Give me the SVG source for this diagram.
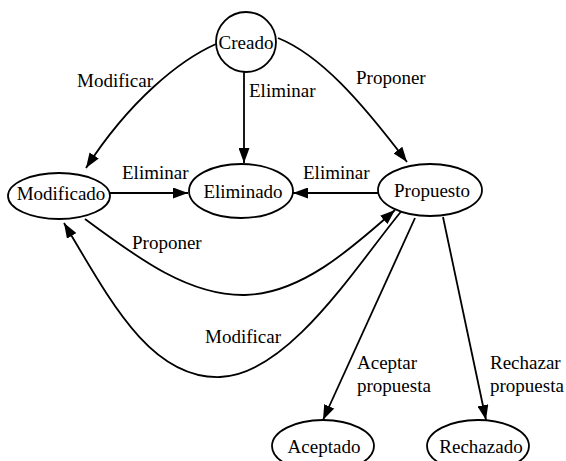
<svg xmlns="http://www.w3.org/2000/svg" width="566" height="461" viewBox="0 0 566 461">
  <style>
    .node { fill: #ffffff; stroke: #000000; stroke-width: 1.8; }
    .edge { fill: none; stroke: #000000; stroke-width: 1.8; marker-end: url(#arrow); }
    text { font-family: "Liberation Serif", "Times New Roman", serif; font-size: 19px; fill: #000000; }
    .label { text-anchor: middle; }
  </style>
  <defs>
    <marker id="arrow" markerUnits="userSpaceOnUse" markerWidth="15" markerHeight="11" refX="15" refY="5.5" orient="auto">
      <path d="M0,0 L15,5.5 L0,11 z" fill="#000000"/>
    </marker>
  </defs>
  <rect width="566" height="461" fill="#ffffff"/>

  <!-- transitions -->
  <g id="edges">
    <path class="edge" d="M216,44 C180,60 130,100 86,168"/>
    <text x="77" y="87">Modificar</text>
    <path class="edge" d="M244,72 L244,163"/>
    <text x="249" y="97">Eliminar</text>
    <path class="edge" d="M278,38 C320,55 360,100 407,162"/>
    <text x="356" y="84">Proponer</text>
    <path class="edge" d="M110,193 L188,193"/>
    <text x="122" y="179">Eliminar</text>
    <path class="edge" d="M378,193 L293,193"/>
    <text x="303" y="179">Eliminar</text>
    <path class="edge" d="M85,219 C140,260 190,296 245,295 C300,294 350,250 395,210"/>
    <text x="132" y="249">Proponer</text>
    <path class="edge" d="M404,208 C360,260 290,375 220,377 C150,379 110,300 64,223"/>
    <text x="205" y="343">Modificar</text>
    <path class="edge" d="M415,218 L323,420"/>
    <text x="357" y="369">Aceptar</text>
    <text x="357" y="392">propuesta</text>
    <path class="edge" d="M443,217 L486,420"/>
    <text x="490" y="369">Rechazar</text>
    <text x="490" y="392">propuesta</text>
  </g>

  <!-- states -->
  <g id="creado">
    <circle class="node" cx="246" cy="42" r="30"/>
    <text class="label" x="246" y="49">Creado</text>
  </g>
  <g id="modificado">
    <ellipse class="node" cx="59" cy="196" rx="51" ry="23"/>
    <text class="label" x="61" y="200">Modificado</text>
  </g>
  <g id="eliminado">
    <ellipse class="node" cx="241" cy="191" rx="52" ry="27"/>
    <text class="label" x="243" y="198">Eliminado</text>
  </g>
  <g id="propuesto">
    <ellipse class="node" cx="430" cy="190" rx="52" ry="26"/>
    <text class="label" x="432" y="197">Propuesto</text>
  </g>
  <g id="aceptado">
    <ellipse class="node" cx="323" cy="446" rx="51" ry="26"/>
    <text class="label" x="324" y="453">Aceptado</text>
  </g>
  <g id="rechazado">
    <ellipse class="node" cx="478" cy="446" rx="51" ry="26"/>
    <text class="label" x="481" y="453">Rechazado</text>
  </g>
</svg>
